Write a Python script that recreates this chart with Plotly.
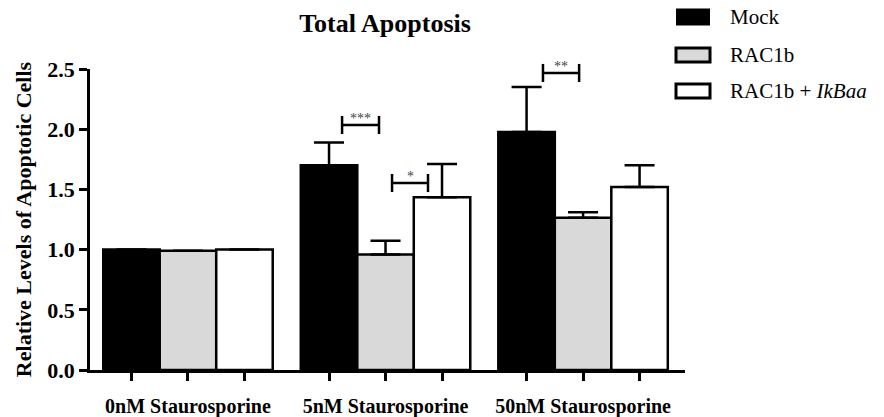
import plotly.graph_objects as go

categories = ["0nM Staurosporine", "5nM Staurosporine", "50nM Staurosporine"]
series_names = ["Mock", "RAC1b", "RAC1b + <i>IkBaa</i>"]
mock_vals = [1.00, 1.70, 1.977]
rac1b_vals = [0.99, 0.96, 1.265]
ikb_vals = [1.00, 1.434, 1.52]
mock_err = [None, 0.19, 0.373]
rac1b_err = [None, 0.114, 0.045]
ikb_err = [None, 0.276, 0.18]
y_ticks = [0.0, 0.5, 1.0, 1.5, 2.0, 2.5]
y_tick_labels = ["0.0", "0.5", "1.0", "1.5", "2.0", "2.5"]

# significance comparisons: (x start, x end, y level, label)
sig_x0 = [0.78, 1.033, 1.797]
sig_x1 = [0.967, 1.215, 1.98]
sig_y = [2.035, 1.553, 2.467]
sig_labels = ["***", "*", "**"]

colors = ["#000000", "#d9d9d9", "#ffffff"]
values = [mock_vals, rac1b_vals, ikb_vals]
errors = [mock_err, rac1b_err, ikb_err]

FONT = "'Liberation Serif', Tinos, 'Times New Roman', 'DejaVu Serif', 'Noto Serif', serif"
YMAX = 2.5
slot = 0.286
x_groups = list(range(len(categories)))

fig = go.Figure()
for name, vals, err, col in zip(series_names, values, errors, colors):
    fig.add_trace(go.Bar(
        x=x_groups, y=vals, name=name,
        marker=dict(color=col, line=dict(color="black", width=2.5)),
        error_y=dict(type="data", array=err, arrayminus=[0] * len(err), symmetric=False,
                     thickness=2.5, width=15, color="black"),
        showlegend=False, hoverinfo="skip",
    ))

bar_positions = [g + k * slot for g in x_groups for k in (-1, 0, 1)]

shapes = []
annotations = []
for x0, x1, yv, lab in zip(sig_x0, sig_x1, sig_y, sig_labels):
    yp = yv / YMAX
    shapes.append(dict(type="line", xref="x", yref="paper", x0=x0, x1=x1, y0=yp, y1=yp,
                       line=dict(color="black", width=2.5)))
    for xx in (x0, x1):
        shapes.append(dict(type="line", xref="x", yref="paper", x0=xx, x1=xx,
                           y0=yp - 0.03, y1=yp + 0.03, line=dict(color="black", width=2.5)))
    annotations.append(dict(x=(x0 + x1) / 2, y=yp + 0.03, xref="x", yref="paper", text=lab,
                            showarrow=False, yanchor="middle", yshift=-3,
                            font=dict(family=FONT, size=14, color="#444444")))

# custom legend
leg_x = (676 - 90) / 595
leg_rows = [(370 - 17) / 301, (370 - 55) / 301, (370 - 91) / 301]
for name, col, yy, i in zip(series_names, colors, leg_rows, range(3)):
    h = 8.5 if i == 0 else 7
    shapes.append(dict(type="rect", xref="paper", yref="paper",
                       xsizemode="pixel", ysizemode="pixel", xanchor=leg_x, yanchor=yy,
                       x0=0, x1=34, y0=-h, y1=h, fillcolor=col,
                       line=dict(color="black", width=0 if i == 0 else 3)))
    annotations.append(dict(x=(728 - 90) / 595, y=yy, xref="paper", yref="paper",
                            text=name, showarrow=False, xanchor="left", yanchor="middle",
                            font=dict(family=FONT, size=21, color="black")))

fig.update_layout(
    width=884, height=417,
    margin=dict(l=90, r=199, t=69, b=47, autoexpand=False),
    paper_bgcolor="white", plot_bgcolor="white",
    barmode="group", bargap=1 - 3 * slot, bargroupgap=0,
    title=dict(text="<b>Total Apoptosis</b>", x=385 / 884, xanchor="center",
               y=1 - 23 / 417, yanchor="middle",
               font=dict(family=FONT, size=26, color="black")),
    shapes=shapes, annotations=annotations,
    xaxis=dict(range=[-0.496, 2.516], tickvals=x_groups,
               ticktext=["<b>%s</b>" % c for c in categories],
               ticks="outside", ticklen=8, tickwidth=2.5, tickcolor="black",
               minor=dict(tickvals=bar_positions, ticks="outside", ticklen=8,
                          tickwidth=2.5, tickcolor="black"),
               showline=True, linecolor="black", linewidth=2.5, showgrid=False,
               zeroline=False, ticklabelstandoff=8,
               tickfont=dict(family=FONT, size=20, color="black")),
    yaxis=dict(range=[0, YMAX], tickvals=y_ticks, ticktext=["<b>%s</b>" % t for t in y_tick_labels],
               ticks="outside", ticklen=8, tickwidth=2.5, tickcolor="black",
               showline=True, linecolor="black", linewidth=2.5, showgrid=False,
               zeroline=False,
               tickfont=dict(family=FONT, size=22, color="black"),
               title=dict(text="<b>Relative Levels of Apoptotic Cells</b>", standoff=10,
                          font=dict(family=FONT, size=22, color="black"))),
)

fig.write_html("out.html", config={"displayModeBar": False},
               post_script="document.body.style.margin='0';document.body.style.padding='0';")
